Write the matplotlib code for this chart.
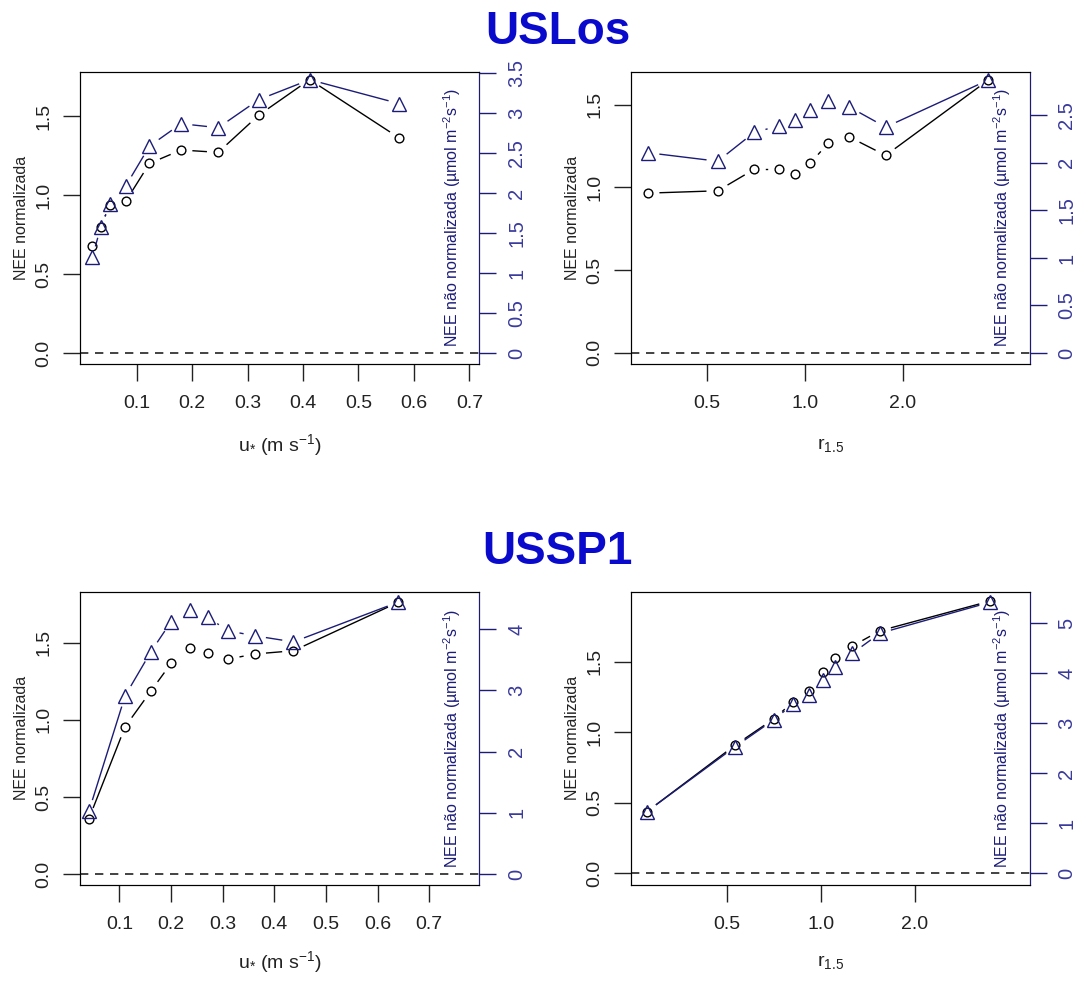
import numpy as np
import matplotlib
matplotlib.use('Agg')
import matplotlib.pyplot as plt
from matplotlib.ticker import NullLocator

plt.rcParams['font.family'] = ['Liberation Sans', 'DejaVu Sans']
plt.rcParams['mathtext.fontset'] = 'custom'
plt.rcParams['mathtext.rm'] = 'Liberation Sans'
plt.rcParams['mathtext.default'] = 'regular'

W, H = 1080, 981

# USLos - u*
ustar_los = [0.020, 0.035, 0.052, 0.080, 0.123, 0.180, 0.247, 0.320, 0.412, 0.574]
nee_norm_los_u = [0.68, 0.80, 0.94, 0.96, 1.20, 1.285, 1.27, 1.505, 1.73, 1.36]
nee_bruto_los_u = [1.20, 1.58, 1.87, 2.09, 2.59, 2.87, 2.82, 3.17, 3.42, 3.12]

# USLos - r1.5
r_los = [0.33, 0.54, 0.70, 0.83, 0.93, 1.04, 1.18, 1.37, 1.77, 3.66]
nee_norm_los_r = [0.966, 0.98, 1.111, 1.111, 1.081, 1.148, 1.269, 1.305, 1.194, 1.65]
nee_bruto_los_r = [2.107, 2.018, 2.324, 2.387, 2.447, 2.556, 2.651, 2.588, 2.377, 2.873]

# USSP1 - u*
ustar_sp1 = [0.041, 0.111, 0.161, 0.200, 0.236, 0.271, 0.311, 0.362, 0.437, 0.640]
nee_norm_sp1_u = [0.36, 0.955, 1.187, 1.366, 1.463, 1.435, 1.394, 1.427, 1.448, 1.762]
nee_bruto_sp1_u = [1.03, 2.91, 3.63, 4.12, 4.31, 4.19, 3.97, 3.89, 3.79, 4.44]

# USSP1 - r1.5
r_sp1 = [0.277, 0.532, 0.706, 0.816, 0.915, 1.013, 1.112, 1.263, 1.547, 3.49]
nee_norm_sp1_r = [0.437, 0.909, 1.094, 1.216, 1.294, 1.424, 1.523, 1.611, 1.719, 1.93]
nee_bruto_sp1_r = [1.233, 2.533, 3.067, 3.387, 3.567, 3.867, 4.133, 4.40, 4.80, 5.42]

ticks_u = [0.1, 0.2, 0.3, 0.4, 0.5, 0.6, 0.7]
ticks_r = [0.5, 1.0, 2.0]

AZUL = '#1c1c78'
AZUL_TXT = '#3a3a9c'

fig = plt.figure(figsize=(W / 100, H / 100), dpi=100)


def caixa(l, r, t, b):
    return [l / W, 1 - b / H, (r - l) / W, (b - t) / H]


def tipo_b(ax, x, y, cor, marcador, ms, gap=12):
    # linha com falhas perto dos pontos (igual type="b" do R)
    pts = ax.transData.transform(np.column_stack([x, y]))
    inv = ax.transData.inverted()
    for p0, p1 in zip(pts[:-1], pts[1:]):
        d = p1 - p0
        L = np.hypot(d[0], d[1])
        if L <= 2 * gap:
            continue
        u = d / L
        a = inv.transform(p0 + u * gap)
        b = inv.transform(p1 - u * gap)
        ax.plot([a[0], b[0]], [a[1], b[1]], color=cor, lw=1.0)
    ax.plot(x, y, ls='none', marker=marcador, mfc='none', mec=cor, mew=1.0, ms=ms)


def painel(pos, x, norm, bruto, xlim, ylim_e, ylim_d, xticks, dticks, xlabel, xlabel_y, log=False):
    ax = fig.add_axes(caixa(*pos))
    if log:
        ax.set_xscale('log')
    ax.set_xlim(xlim)
    ax.set_ylim(ylim_e)
    ax.xaxis.set_minor_locator(NullLocator())
    ax.set_xticks(xticks)
    ax.set_xticklabels([f'{t:.1f}' for t in xticks])
    ax.set_yticks([0.0, 0.5, 1.0, 1.5])
    ax.set_yticklabels(['0.0', '0.5', '1.0', '1.5'])
    ax.tick_params(axis='x', length=12, width=1, labelsize=14, pad=10, colors='#222222')
    ax.tick_params(axis='y', length=12, width=1, labelsize=14, pad=8, colors='#222222',
                   labelrotation=90)
    for lb in ax.get_yticklabels():
        lb.set_va('center')
    ax.set_xlabel(xlabel, fontsize=14, color='#222222')
    ax.xaxis.set_label_coords(0.5, xlabel_y)
    ax.xaxis.label.set_va('center')
    ax.set_ylabel('NEE normalizada', fontsize=11.5, color='#222222')
    ax.yaxis.set_label_coords(-0.148, 0.5)
    ax.yaxis.label.set_va('center')

    ax2 = ax.twinx()
    ax2.set_ylim(ylim_d)
    ax2.set_yticks(dticks)
    ax2.set_yticklabels([f'{t:g}' for t in dticks])
    ax2.tick_params(axis='y', length=12, width=1, labelsize=14.5, pad=8, colors=AZUL,
                    labelcolor=AZUL_TXT, labelrotation=90)
    for lb in ax2.get_yticklabels():
        lb.set_va('center')
    ax2.spines['right'].set_color(AZUL)

    ax.axhline(0, color='#222222', lw=1.2, ls=(0, (5, 4)))
    tipo_b(ax, x, norm, 'black', 'o', 6.3)
    tipo_b(ax2, x, bruto, AZUL, '^', 9.5)

    ax.text(0.931, 0.058, 'NEE não normalizada (µmol m$^{-2}$s$^{-1}$)', transform=ax.transAxes,
            rotation=90, ha='center', va='bottom', fontsize=11.5, color=AZUL)
    return ax


lab_u = 'u$_{*}$ (m s$^{-1}$)'
lab_r = 'r$_{1.5}$'

painel((80.2, 479.3, 71.7, 364), ustar_los, nee_norm_los_u, nee_bruto_los_u,
       (-0.002, 0.718), (-0.068, 1.78), (-0.134, 3.52), ticks_u,
       [0, 0.5, 1, 1.5, 2, 2.5, 3, 3.5], lab_u, -0.277)
painel((631.3, 1029.7, 71.7, 364), r_los, nee_norm_los_r, nee_bruto_los_r,
       (0.293, 4.9), (-0.067, 1.70), (-0.116, 2.96), ticks_r,
       [0, 0.5, 1, 1.5, 2, 2.5], lab_r, -0.277, log=True)
painel((80.2, 479.3, 591.7, 885), ustar_sp1, nee_norm_sp1_u, nee_bruto_sp1_u,
       (0.024, 0.797), (-0.071, 1.831), (-0.18, 4.61), ticks_u,
       [0, 1, 2, 3, 4], lab_u, -0.262)
painel((631.3, 1029.7, 591.7, 885), r_sp1, nee_norm_sp1_r, nee_bruto_sp1_r,
       (0.247, 4.67), (-0.083, 1.996), (-0.234, 5.63), ticks_r,
       [0, 1, 2, 3, 4, 5], lab_r, -0.262, log=True)

fig.text(557.5 / W, 1 - 31.7 / H, 'USLos', ha='center', va='center', fontsize=33,
         fontweight='bold', color='#0a0acd')
fig.text(557.7 / W, 1 - 552 / H, 'USSP1', ha='center', va='center', fontsize=33,
         fontweight='bold', color='#0a0acd')

fig.savefig('out.png', dpi=100)
